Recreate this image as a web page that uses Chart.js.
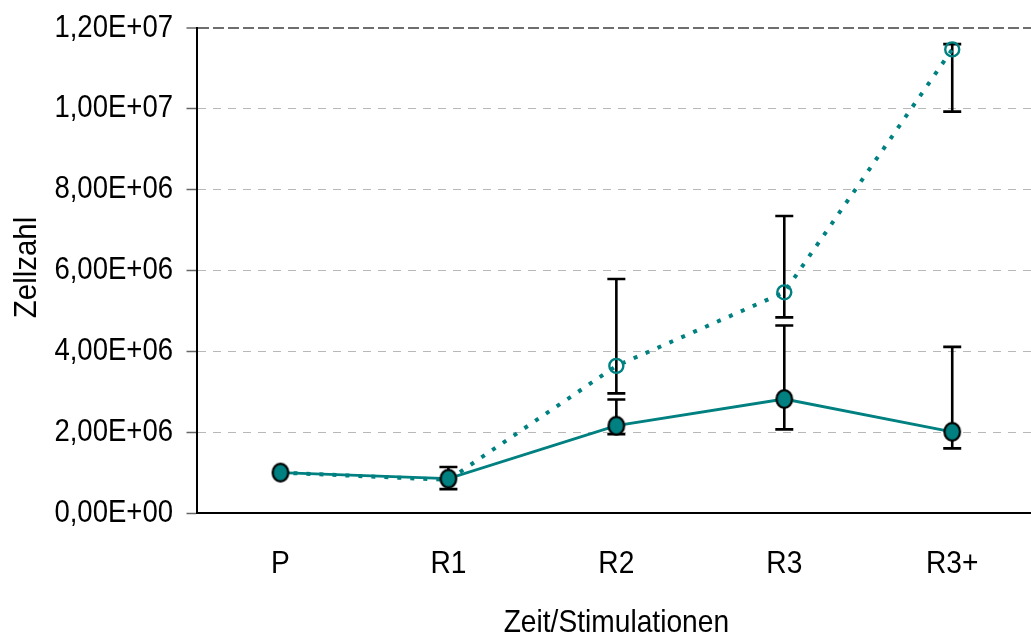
<!DOCTYPE html>
<html>
<head>
<meta charset="utf-8">
<script src="https://cdn.jsdelivr.net/npm/chart.js@4.4.0/dist/chart.umd.min.js"></script>
<style>
  html, body { margin: 0; padding: 0; background: #fff; overflow: hidden; width: 1031px; height: 642px; }
  /* the plot area runs past the right edge of the picture, as in the original */
  #wrap { width: 1031px; height: 642px; overflow: hidden; position: relative; }
  #chart { position: absolute; left: 0; top: 0; }
</style>
</head>
<body>
<div id="wrap"><canvas id="chart" width="1048" height="642"></canvas></div>
<script>
// Data
const categories = ['P', 'R1', 'R2', 'R3', 'R3+'];
const yTickLabels = ['0,00E+00', '2,00E+06', '4,00E+06', '6,00E+06', '8,00E+06', '1,00E+07', '1,20E+07'];

// solid line, filled markers
const filledValues = [1.0e6, 0.85e6, 2.16e6, 2.82e6, 2.01e6];
const filledUpper  = [null, 1.14e6, 2.81e6, 4.64e6, 4.11e6];
const filledLower  = [null, 0.59e6, 1.95e6, 2.07e6, 1.60e6];

// dotted line, open markers
const openValues = [1.0e6, 0.82e6, 3.64e6, 5.46e6, 11.47e6];
const openUpper  = [null, null, 5.79e6, 7.35e6, 11.6e6];
const openLower  = [null, null, 2.96e6, 4.84e6, 9.93e6];

const TEAL = '#008080';
const FONT = '"Liberation Sans", Arial, sans-serif';

Chart.defaults.color = '#000';
Chart.defaults.font.family = FONT;

// slightly tall filled marker, like the original
function makeEllipse() {
  const c = document.createElement('canvas');
  c.width = 22; c.height = 24;
  const g = c.getContext('2d');
  g.beginPath();
  g.ellipse(11, 12, 7.8, 8.8, 0, 0, Math.PI * 2);
  g.fillStyle = TEAL;
  g.fill();
  g.lineWidth = 2.2;
  g.strokeStyle = '#000';
  g.stroke();
  return c;
}

// condensed text helper (the original font is narrower than Arial)
function drawText(ctx, text, x, y, sx, align) {
  ctx.save();
  ctx.translate(x, y);
  ctx.scale(sx, 1);
  ctx.textAlign = align;
  ctx.fillText(text, 0, 0);
  ctx.restore();
}

// Error bars drawn under the markers
const errorBars = {
  id: 'errorBars',
  beforeDatasetsDraw(chart) {
    const { ctx, scales: { x, y } } = chart;
    ctx.save();
    ctx.strokeStyle = '#000';
    ctx.lineWidth = 2.6;
    [[filledUpper, filledLower], [openUpper, openLower]].forEach(([up, lo]) => {
      categories.forEach((c, i) => {
        if (up[i] == null) return;
        const px = x.getPixelForValue(i);
        const yt = y.getPixelForValue(up[i]);
        const yb = y.getPixelForValue(lo[i]);
        ctx.beginPath();
        ctx.moveTo(px, yt); ctx.lineTo(px, yb);
        ctx.moveTo(px - 9, yt); ctx.lineTo(px + 9, yt);
        ctx.moveTo(px - 9, yb); ctx.lineTo(px + 9, yb);
        ctx.stroke();
      });
    });
    ctx.restore();
  }
};

// Tick labels and axis titles
const labelsPlugin = {
  id: 'labelsPlugin',
  afterDraw(chart) {
    const { ctx, chartArea, scales: { x, y } } = chart;
    ctx.save();
    ctx.fillStyle = '#000';
    ctx.font = '32px ' + FONT;
    ctx.textBaseline = 'alphabetic';
    y.ticks.forEach((t, i) => {
      drawText(ctx, yTickLabels[i], 173, y.getPixelForValue(t.value) + 8.5, 0.86, 'right');
    });
    categories.forEach((c, i) => {
      drawText(ctx, c, x.getPixelForValue(i), 573, 0.88, 'center');
    });
    drawText(ctx, 'Zeit/Stimulationen', (chartArea.left + chartArea.right) / 2, 632, 0.88, 'center');
    ctx.translate(36, 267.5);
    ctx.rotate(-Math.PI / 2);
    drawText(ctx, 'Zellzahl', 0, 0, 0.92, 'center');
    ctx.restore();
  }
};

new Chart(document.getElementById('chart'), {
  type: 'line',
  data: {
    labels: categories,
    datasets: [
      {
        data: filledValues,
        borderColor: TEAL,
        borderWidth: 2.8,
        pointStyle: makeEllipse(),
        pointRadius: 9,
        tension: 0
      },
      {
        data: openValues,
        borderColor: TEAL,
        borderWidth: 4,
        borderDash: [4, 9],
        pointRadius: 7,
        pointBorderWidth: 2.4,
        pointBorderColor: TEAL,
        pointBackgroundColor: 'rgba(0,0,0,0)',
        tension: 0
      }
    ]
  },
  options: {
    responsive: false,
    animation: false,
    devicePixelRatio: 1,
    layout: { padding: { top: 28, left: 0, right: 0, bottom: 0 } },
    plugins: {
      legend: { display: false },
      tooltip: { enabled: false }
    },
    scales: {
      x: {
        offset: true,
        grid: { display: false },
        border: { display: true, color: '#000', width: 2 },
        ticks: { display: false },
        afterFit(scale) { scale.height = 129; }
      },
      y: {
        min: 0,
        max: 1.2e7,
        ticks: { stepSize: 2e6, display: false },
        grid: {
          color: ctx => ctx.tick.value === 1.2e7 ? '#6e6e6e' : (ctx.tick.value === 0 ? 'rgba(0,0,0,0)' : '#b8b8b8'),
          lineWidth: ctx => ctx.tick.value === 1.2e7 ? 2 : 1,
          tickLength: 10,
          tickColor: '#666',
          tickWidth: 1.5
        },
        border: {
          display: true,
          color: '#000',
          width: 2,
          dash: ctx => !ctx.tick ? [] : (ctx.tick.value === 1.2e7 ? [11, 4] : [8, 7])
        },
        afterFit(scale) { scale.width = 196.5; }
      }
    }
  },
  plugins: [errorBars, labelsPlugin]
});
</script>
</body>
</html>
